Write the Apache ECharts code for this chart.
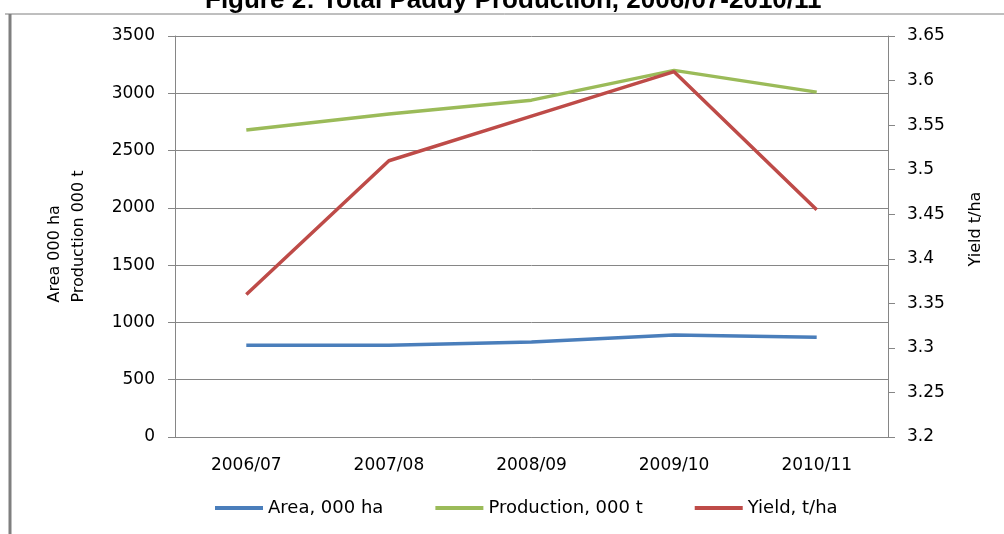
<!DOCTYPE html>
<html>
<head>
<meta charset="utf-8">
<script src="https://cdn.jsdelivr.net/npm/echarts@6/dist/echarts.min.js"></script>
<style>
  html, body { margin: 0; padding: 0; background: #fff; }
  #chart { width: 1004px; height: 534px; }
</style>
</head>
<body>
<div id="chart"></div>
<script>
const seasons = ['2006/07', '2007/08', '2008/09', '2009/10', '2010/11'];
const area = [800, 800, 830, 890, 870];
const production = [2680, 2820, 2940, 3200, 3010];
const yieldTha = [3.36, 3.51, 3.56, 3.61, 3.455];

const axisGray = '#868686';
const font = 'DejaVu Sans';

let myChart = echarts.init(document.getElementById('chart'));
myChart.setOption({
  animation: false,
  color: ['#4a7ebb', '#9bbb59', '#be4b48'],
  textStyle: { fontFamily: font, color: '#000' },
  title: {
    text: 'Figure 2: Total Paddy Production, 2006/07-2010/11',
    left: 200,
    top: -17,
    textStyle: { fontFamily: 'Liberation Sans', fontWeight: 'bold', fontSize: 26, color: '#000' }
  },
  graphic: [
    { type: 'line', shape: { x1: 5, y1: 14, x2: 1004, y2: 14 }, style: { stroke: '#7f7f7f', lineWidth: 1 } },
    { type: 'line', shape: { x1: 10, y1: 14, x2: 10, y2: 534 }, style: { stroke: '#7f7f7f', lineWidth: 3 } }
  ],
  legend: {
    bottom: 12,
    left: 210,
    itemGap: 52,
    itemWidth: 48,
    itemHeight: 4,
    icon: 'rect',
    textStyle: { fontFamily: font, fontSize: 18, color: '#000' },
    data: ['Area, 000 ha', 'Production, 000 t', 'Yield, t/ha']
  },
  grid: { left: 175, right: 116, top: 36, bottom: 97 },
  xAxis: {
    type: 'category',
    data: seasons,
    boundaryGap: true,
    axisLine: { lineStyle: { color: axisGray } },
    axisTick: { length: 6, lineStyle: { color: axisGray } },
    axisLabel: { fontSize: 17, color: '#000', margin: 20 }
  },
  yAxis: [
    {
      type: 'value',
      min: 0,
      max: 3500,
      interval: 500,
      position: 'left',
      name: '{a|Area 000 ha}\n{a|Production 000 t}',
      nameLocation: 'middle',
      nameRotate: 90,
      nameGap: 84,
      nameTextStyle: {
        fontSize: 16,
        lineHeight: 24,
        color: '#000',
        rich: { a: { align: 'left', fontSize: 16, lineHeight: 24, fontFamily: font, color: '#000' } }
      },
      axisLine: { show: true, lineStyle: { color: axisGray } },
      axisTick: { show: true, length: 7, lineStyle: { color: axisGray } },
      axisLabel: { fontSize: 17, color: '#000', margin: 20, formatter: v => String(v) },
      splitLine: { lineStyle: { color: axisGray } }
    },
    {
      type: 'value',
      min: 3.2,
      max: 3.65,
      interval: 0.05,
      position: 'right',
      name: 'Yield t/ha',
      nameLocation: 'middle',
      nameRotate: 90,
      nameGap: 80,
      nameTextStyle: { fontSize: 16, color: '#000', padding: [0, 0, 0, 15] },
      axisLine: { show: true, lineStyle: { color: axisGray } },
      axisTick: { show: true, length: 7, lineStyle: { color: axisGray } },
      axisLabel: { fontSize: 17, color: '#000', margin: 19 },
      splitLine: { show: false }
    }
  ],
  series: [
    { name: 'Area, 000 ha', type: 'line', data: area, yAxisIndex: 0, showSymbol: false, lineStyle: { width: 3.5 } },
    { name: 'Production, 000 t', type: 'line', data: production, yAxisIndex: 0, showSymbol: false, lineStyle: { width: 3.5 } },
    { name: 'Yield, t/ha', type: 'line', data: yieldTha, yAxisIndex: 1, showSymbol: false, lineStyle: { width: 3.5 } }
  ]
});
</script>
</body>
</html>
